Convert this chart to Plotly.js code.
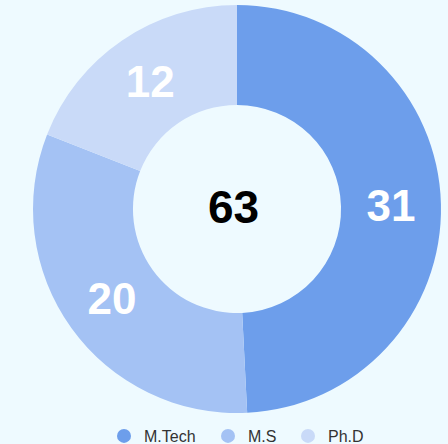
<!DOCTYPE html>
<html><head><meta charset="utf-8">
<script src="https://cdn.plot.ly/plotly-3.0.1.min.js"></script>
<style>html,body{margin:0;padding:0;background:#eefaff;}#chart{width:448px;height:444px;}</style>
</head><body><div id="chart"></div>
<script>
const categories = ["M.Tech", "M.S", "Ph.D"];
const values = [31, 20, 12];
const colors = ["#6d9eeb", "#a4c2f4", "#c9daf8"];

const total = values.reduce((a, b) => a + b, 0);
const legendNames = ["legend", "legend2", "legend3"];
const legendX = [104, 208, 288];

const traces = [{
  type: "pie",
  labels: categories,
  values: values,
  hole: 0.51,
  sort: false,
  direction: "clockwise",
  rotation: 0,
  marker: {colors: colors, line: {width: 0}},
  textinfo: "value",
  textposition: "inside",
  insidetextorientation: "horizontal",
  textfont: {family: "Liberation Sans, Arial, sans-serif", size: 44, color: "#ffffff", weight: "bold"},
  domain: {x: [33/448, 441/448], y: [31/444, 439/444]},
  showlegend: false,
  hoverinfo: "label+value"
}];
categories.forEach((c, i) => {
  traces.push({
    type: "scatter", mode: "markers", x: [null], y: [null], name: c,
    legend: legendNames[i],
    marker: {symbol: "circle", size: 14, color: colors[i]}, showlegend: true, hoverinfo: "skip"
  });
});

const layout = {
  width: 448, height: 444,
  margin: {l: 0, r: 0, t: 0, b: 0, autoexpand: false},
  paper_bgcolor: "#eefaff",
  plot_bgcolor: "rgba(0,0,0,0)",
  xaxis: {visible: false}, yaxis: {visible: false},
  showlegend: true,
  uniformtext: {mode: "show", minsize: 44},
  annotations: [{
    text: String(total), xref: "paper", yref: "paper", x: 233/448, y: (444-207)/444,
    showarrow: false, xanchor: "center", yanchor: "middle",
    font: {family: "Liberation Sans, Arial, sans-serif", size: 46, color: "#000000", weight: "bold"}
  }]
};
legendNames.forEach((ln, i) => {
  layout[ln] = {
    orientation: "h", x: legendX[i] / 448, xanchor: "left", y: 8/444, yanchor: "middle",
    font: {family: "Liberation Sans, Arial, sans-serif", size: 16, color: "#333333"},
    bgcolor: "rgba(0,0,0,0)", itemclick: false
  };
});
Plotly.newPlot("chart", traces, layout, {displayModeBar: false, staticPlot: true});
</script></body></html>
